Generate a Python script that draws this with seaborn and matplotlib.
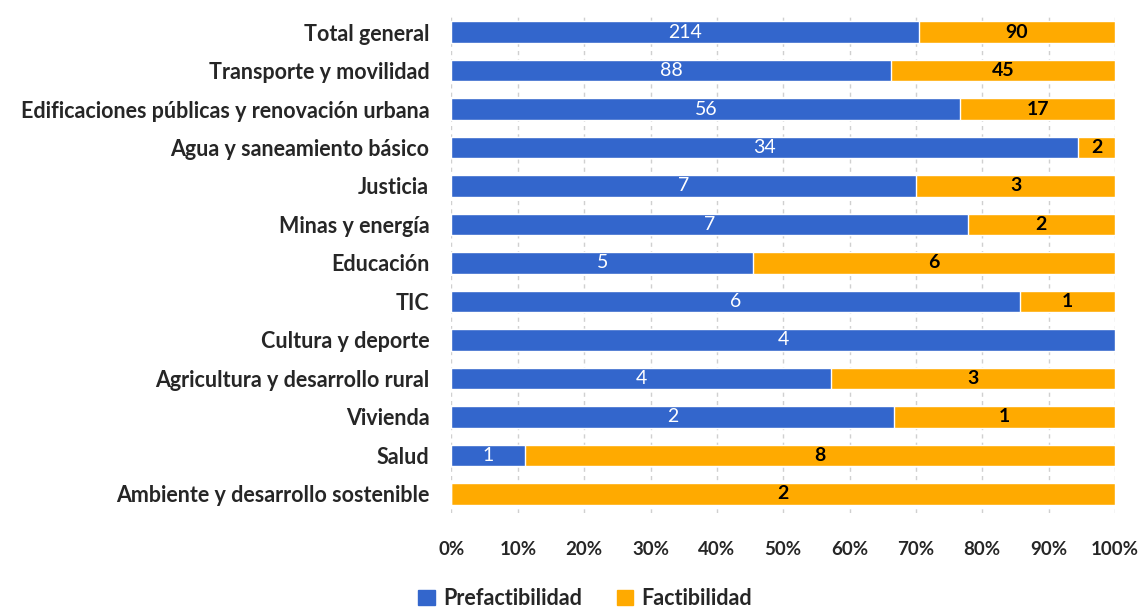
import matplotlib
matplotlib.use("Agg")
import matplotlib.pyplot as plt
import seaborn as sns
import pandas as pd
import numpy as np
from matplotlib.patches import Patch

categories = ["Total general", "Transporte y movilidad",
              "Edificaciones públicas y renovación urbana",
              "Agua y saneamiento básico", "Justicia", "Minas y energía",
              "Educación", "TIC", "Cultura y deporte",
              "Agricultura y desarrollo rural", "Vivienda", "Salud",
              "Ambiente y desarrollo sostenible"]
prefactibilidad = [214, 88, 56, 34, 7, 7, 5, 6, 4, 4, 2, 1, 0]
factibilidad = [90, 45, 17, 2, 3, 2, 6, 1, 0, 3, 1, 8, 2]
xticks = [0, 10, 20, 30, 40, 50, 60, 70, 80, 90, 100]

BLUE = "#3366CC"
ORANGE = "#FFAA00"

sns.set_theme(style="white")
plt.rcParams['font.family'] = ['Lato', 'DejaVu Sans']

df = pd.DataFrame({"cat": categories, "pre": prefactibilidad, "fac": factibilidad})
df["total"] = df["pre"] + df["fac"]
df["pre_pct"] = df["pre"] / df["total"] * 100
df["all_pct"] = 100.0

fig = plt.figure(figsize=(11.43, 6.10), dpi=100)
ax = fig.add_axes([0.395, 0.159, 0.5805, 0.82])

sns.barplot(data=df, x="all_pct", y="cat", color=ORANGE, width=0.56,
            saturation=1, ax=ax, orient="h", zorder=2)
sns.barplot(data=df, x="pre_pct", y="cat", color=BLUE, width=0.56,
            saturation=1, ax=ax, orient="h", zorder=3)

for i, r in df.iterrows():
    if r["pre"] > 0:
        ax.text(r["pre_pct"] / 2, i, f"{r['pre']}", ha="center", va="center",
                color="white", fontsize=14, zorder=4)
    if r["fac"] > 0:
        ax.text((r["pre_pct"] + 100) / 2, i, f"{r['fac']}", ha="center",
                va="center", color="black", fontsize=14, fontweight="bold", zorder=4)

ax.set_xlim(0, 100)
ax.set_ylim(12.5, -0.5)
ax.set_xticks(xticks)
ax.set_xticklabels([f"{t}%" for t in xticks], fontsize=13.5, fontweight="bold")
ax.tick_params(axis="x", pad=20, length=0)
ax.tick_params(axis="y", length=0, pad=16)
for lab in ax.get_yticklabels():
    lab.set_fontsize(15.5)
    lab.set_fontweight("bold")
ax.set_xlabel("")
ax.set_ylabel("")
ax.xaxis.grid(True, color="#D0D0D0", linestyle=(0, (3, 3)), linewidth=1, zorder=0)
ax.set_axisbelow(True)
for s in ax.spines.values():
    s.set_visible(False)

handles = [Patch(color=BLUE, label="Prefactibilidad"),
           Patch(color=ORANGE, label="Factibilidad")]
fig.legend(handles=handles, loc="lower center", bbox_to_anchor=(0.512, -0.03),
           ncol=2, frameon=False, handlelength=0.75, handleheight=0.75,
           columnspacing=1.6, handletextpad=0.4,
           prop={"size": 15.5, "weight": "bold"})

fig.savefig("out.png", dpi=100)
